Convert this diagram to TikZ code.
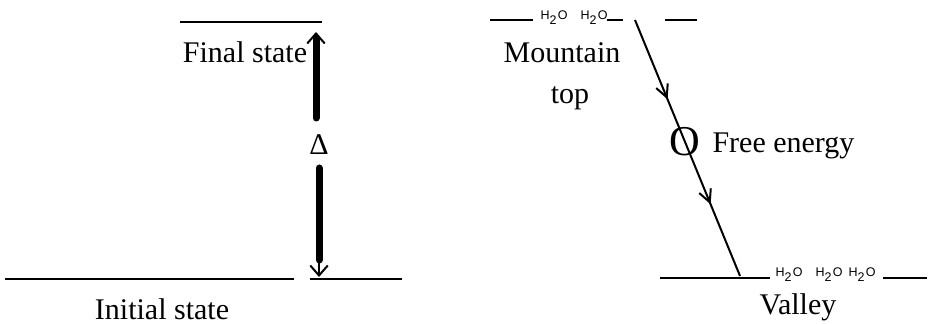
\documentclass[tikz,border=0pt]{standalone}
\usepackage{fontspec}
\setmainfont{Liberation Serif}
\setsansfont{Liberation Sans}
\usetikzlibrary{arrows.meta,decorations.markings,positioning}

\newcommand{\water}{H\textsubscript{2}O}

\begin{document}
\begin{tikzpicture}[x=0.4pt,y=-0.4pt,
                    level/.style={line width=0.6pt},
                    label text/.style={font=\fontsize{12}{15}\selectfont,inner sep=0pt,anchor=base},
                    water/.style={font=\fontsize{5}{6}\sffamily,inner sep=0pt,anchor=base},
                    big bar/.style={line width=2.8pt,line cap=round},
                    thin tip/.style={line width=0.8pt,-{Straight Barb[length=4pt,width=7pt]}},
                    flow line/.style={line width=0.8pt,postaction={decorate},
                      decoration={markings,
                        mark=at position 0.31 with {\arrow{Straight Barb[length=5pt,width=5pt]}},
                        mark=at position 0.72 with {\arrow{Straight Barb[length=5pt,width=5pt]}}}}]
\useasboundingbox (0,0) rectangle (931,324);

% left: change of state
\coordinate (fin l) at (180,22);
\coordinate (fin r) at (322,22);
\coordinate (ini l) at (5,279);
\coordinate (ini m) at (294,279);
\coordinate (ini n) at (310,279);
\coordinate (ini r) at (402,279);
\draw[level] (fin l) -- (fin r);
\draw[level] (ini l) -- (ini m);
\draw[level] (ini n) -- (ini r);

\node[label text] (final) at (245,63) {Final state};
\node[label text] (initial) at (162,320) {Initial state};
\node[label text] (delta) at (319,155) {Δ};

\coordinate (up a) at (316,118);
\coordinate (up b) at (316,38);
\coordinate (up c) at (316,32);
\coordinate (dn a) at (319,168);
\coordinate (dn b) at (319,260);
\coordinate (dn c) at (319,277);
\draw[big bar] (up a) -- (up b);
\draw[thin tip] (up b) -- (up c);
\draw[big bar] (dn a) -- (dn b);
\draw[thin tip] (dn b) -- (dn c);

% right: water running downhill
\coordinate (top l) at (490,20);
\coordinate (top m) at (533,20);
\coordinate (top n) at (607,20);
\coordinate (top o) at (623,20);
\coordinate (top p) at (665,20);
\coordinate (top r) at (697,20);
\draw[level] (top l) -- (top m);
\draw[level] (top n) -- (top o);
\draw[level] (top p) -- (top r);
\node[water] (w1) at (554,20) {\water};
\node[water] (w2) at (594,20) {\water};

\coordinate (val l) at (660,278);
\coordinate (val m) at (770,278);
\coordinate (val n) at (883,278);
\coordinate (val r) at (927,278);
\draw[level] (val l) -- (val m);
\draw[level] (val n) -- (val r);
\node[water] (w3) at (789,277) {\water};
\node[water] (w4) at (829,277) {\water};
\node[water] (w5) at (862,277) {\water};

\node[label text] (mountain) at (562,63) {Mountain};
\node[label text] (mountain top) at (570,104) {top};
\node[label text] (valley) at (798,315) {Valley};

\coordinate (hill a) at (635,20);
\coordinate (hill b) at (740,276);
\draw[flow line] (hill a) -- (hill b);
\node[font=\fontsize{17}{20}\selectfont,inner sep=0pt] (ring) at (685,142) {O};
\node[label text,anchor=base west] (free) at (712,153) {Free energy};

\end{tikzpicture}
\end{document}
